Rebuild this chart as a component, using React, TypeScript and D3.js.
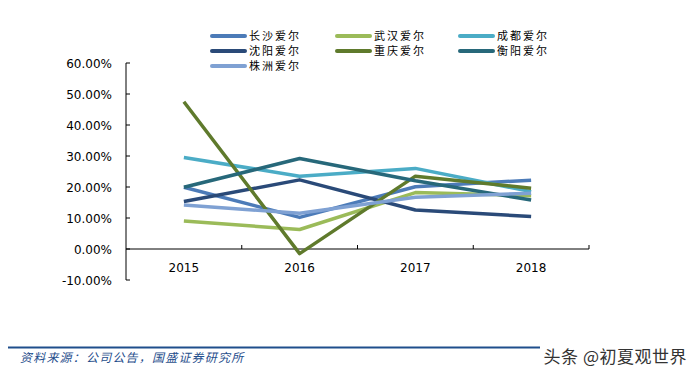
import React from "react";
import * as d3 from "d3";

const years = ["2015", "2016", "2017", "2018"];
const seriesNames = ["长沙爱尔", "武汉爱尔", "成都爱尔", "沈阳爱尔", "重庆爱尔", "衡阳爱尔", "株洲爱尔"];
const changsha = [19.9, 10.2, 20.1, 22.2];
const wuhan = [9.0, 6.3, 18.2, 17.2];
const chengdu = [29.5, 23.5, 26.0, 18.5];
const shenyang = [15.3, 22.3, 12.6, 10.5];
const chongqing = [47.5, -1.5, 23.5, 19.6];
const hengyang = [19.9, 29.2, 22.0, 15.8];
const zhuzhou = [14.2, 11.5, 16.7, 18.0];
const seriesValues = [changsha, wuhan, chengdu, shenyang, chongqing, hengyang, zhuzhou];
const colors = ["#4C7BB8", "#9BBB59", "#4BACC6", "#2A4A78", "#5F7A2C", "#27687A", "#7FA1D3"];
const yTicks = [-10, 0, 10, 20, 30, 40, 50, 60];

export default function App() {
  const x = d3.scaleBand<string>().domain(years).range([126, 589]);
  const y = d3.scaleLinear().domain([-10, 60]).range([280, 63]);
  const line = d3
    .line<number>()
    .x((_, i) => (x(years[i]) as number) + x.bandwidth() / 2)
    .y((v) => y(v));
  const tickFont = "DejaVu Sans, Verdana, sans-serif";
  const cjk = "'Noto Sans CJK SC', sans-serif";
  const legendCols = [212, 337, 460];
  const legendRows = [36, 51, 66];
  return (
    <svg width={697} height={377} style={{ position: "absolute", left: 0, top: 0, background: "#fff" }}>
      <rect width={697} height={377} fill="#fff" />
      {/* y axis */}
      <line x1={126} x2={126} y1={y(60)} y2={y(-10)} stroke="#000" strokeWidth={1} />
      {yTicks.map((t) => (
        <g key={t}>
          <line x1={126} x2={130} y1={y(t)} y2={y(t)} stroke="#000" />
          <text x={112} y={y(t) + 4.5} textAnchor="end" fontFamily={tickFont} fontSize={12} fill="#000">
            {t.toFixed(2) + "%"}
          </text>
        </g>
      ))}
      {/* x axis */}
      <line x1={126} x2={589} y1={y(0)} y2={y(0)} stroke="#000" />
      {years.map((yr) => (
        <line key={yr} x1={(x(yr) as number) + x.bandwidth()} x2={(x(yr) as number) + x.bandwidth()} y1={y(0)} y2={y(0) - 4} stroke="#000" />
      ))}
      {years.map((yr) => (
        <text key={yr} x={(x(yr) as number) + x.bandwidth() / 2} y={272} textAnchor="middle" fontFamily={tickFont} fontSize={12} fill="#000">
          {yr}
        </text>
      ))}
      {/* lines */}
      {seriesValues.map((vals, i) => (
        <path key={i} d={line(vals) || ""} fill="none" stroke={colors[i]} strokeWidth={3.5} strokeLinejoin="round" />
      ))}
      {/* legend */}
      {seriesNames.map((n, i) => {
        const cx = legendCols[i % 3];
        const cy = legendRows[Math.floor(i / 3)];
        return (
          <g key={n}>
            <line x1={cx} x2={cx + 33} y1={cy} y2={cy} stroke={colors[i]} strokeWidth={4} strokeLinecap="round" />
            <text x={cx + 37} y={cy + 4} fontFamily={cjk} fontSize={11} letterSpacing={2} fill="#000">
              {n}
            </text>
          </g>
        );
      })}
      {/* footer */}
      <line x1={8} x2={540} y1={347.5} y2={347.5} stroke="#1F4E8C" strokeWidth={2} />
      <text x={20} y={362} fontFamily={cjk} fontSize={12} letterSpacing={1.2} fontStyle="italic" fill="#1F4E8C">
        资料来源：公司公告，国盛证券研究所
      </text>
      <text x={687} y={363} textAnchor="end" fontFamily={cjk} fontSize={17} letterSpacing={0.5} fill="#333" stroke="#fff" strokeWidth={3} paintOrder="stroke">
        头条 @初夏观世界
      </text>
    </svg>
  );
}
